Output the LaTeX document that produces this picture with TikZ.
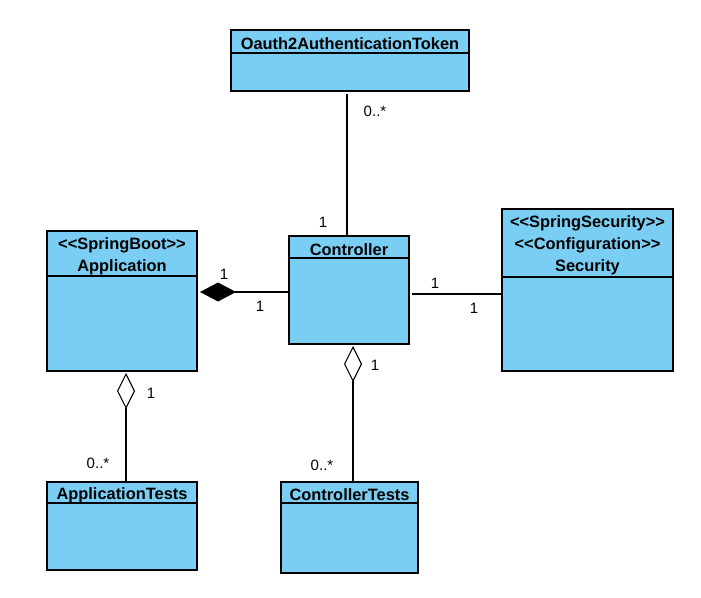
\documentclass[tikz,border=0pt]{standalone}
\usepackage{fontspec}
\newfontfamily\arialfont{Liberation Sans}
\usetikzlibrary{arrows.meta,calc}
\definecolor{classfill}{HTML}{7ACEF4}
\tikzset{
  classbox/.style={draw=black, fill=classfill, line width=1.3bp, inner sep=0pt, outer sep=0pt},
  classline/.style={draw=black, line width=1.1bp},
  classtitle/.style={font=\arialfont\bfseries\fontsize{16.4bp}{22bp}\selectfont, align=center, inner sep=0pt},
  conn/.style={draw=black, line width=1.1bp},
  mult/.style={font=\arialfont\fontsize{15bp}{18bp}\selectfont, inner sep=0pt, anchor=base},
  aggr/.style={conn, -{Diamond[length=36bp, width=18bp, open, fill=white, line width=1.1bp]}},
  compo/.style={conn, -{Diamond[length=36bp, width=19bp, fill=black, line width=1.1bp]}},
}
\newcommand\umlclass[7]{%
  \node[classbox, minimum width={(#4-#2)*1bp}, minimum height={(#5-#3)*1bp}, anchor=north west] (#1) at (#2,#3) {};
  \draw[classline] (#2,#6) -- (#4,#6);
  \node[classtitle] (#1-title) at ({(#2+#4)/2},{(#3+#6)/2+2.5}) {#7};
}
\begin{document}
\begin{tikzpicture}[x=1bp, y=-1bp]
\useasboundingbox (0,0) rectangle (701,598);
\umlclass{oauth}{231}{30}{469}{91}{53}{Oauth2AuthenticationToken}
\umlclass{ctrl}{289}{236}{409}{344}{258}{Controller}
\umlclass{app}{47}{231}{197}{371}{276}{<<SpringBoot>>\\Application}
\umlclass{sec}{502}{209}{673}{371}{277}{<<SpringSecurity>>\\<<Configuration>>\\Security}
\umlclass{apptests}{47}{482}{197}{570}{503}{ApplicationTests}
\umlclass{ctests}{281}{482}{418}{573}{503}{ControllerTests}

% Controller -- Oauth2AuthenticationToken
\draw[conn, shorten >=3bp] ([xshift=-2bp]ctrl.north) -- ([xshift=-2bp]ctrl.north |- oauth.south);
% Controller -- Application (composition)
\draw[compo, shorten >=3bp] ([yshift=-2bp]ctrl.west) -- ([yshift=-2bp]ctrl.west -| app.east);
% Controller -- Security
\draw[conn] ([xshift=3bp, yshift=-4bp]ctrl.east) -- ([yshift=-4bp]ctrl.east -| sec.west);
% ControllerTests -- Controller (aggregation)
\draw[aggr, shorten >=2bp] ([xshift=4bp]ctrl.south |- ctests.north) -- ([xshift=4bp]ctrl.south);
% ApplicationTests -- Application (aggregation)
\draw[aggr, shorten >=2bp] ([xshift=4bp]app.south |- apptests.north) -- ([xshift=4bp]app.south);

% multiplicities
\node[mult] (m1) at (375,117) {0..*};
\node[mult] (m2) at (323,227) {1};
\node[mult] (m3) at (224,279) {1};
\node[mult] (m4) at (260,311) {1};
\node[mult] (m5) at (375,370) {1};
\node[mult] (m6) at (151,398) {1};
\node[mult] (m7) at (435,288) {1};
\node[mult] (m8) at (474,313) {1};
\node[mult] (m9) at (98,468) {0..*};
\node[mult] (m10) at (322,470) {0..*};
\end{tikzpicture}
\end{document}
